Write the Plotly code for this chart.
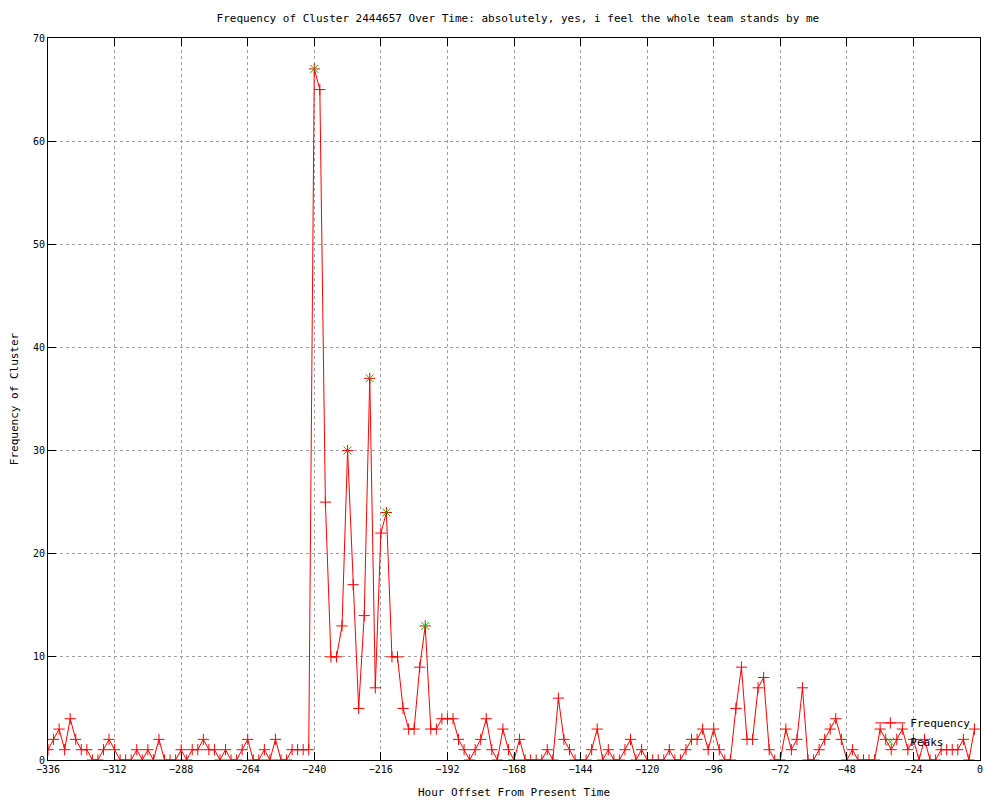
import plotly.graph_objects as go

# Hour offsets (every 2 hours) and cluster frequency
hours = list(range(-336, 0, 2))
frequency = [
    1, 2, 3, 1, 4, 2, 1, 1, 0, 0,
    1, 2, 1, 0, 0, 0, 1, 0, 1, 0,
    2, 0, 0, 0, 1, 0, 1, 1, 2, 1,
    1, 0, 1, 0, 0, 1, 2, 0, 0, 1,
    0, 2, 0, 0, 1, 1, 1, 1, 67, 65,
    25, 10, 10, 13, 30, 17, 5, 14, 37, 7,
    22, 24, 10, 10, 5, 3, 3, 9, 13, 3,
    3, 4, 4, 4, 2, 1, 0, 1, 2, 4,
    1, 0, 3, 1, 0, 2, 0, 0, 0, 0,
    1, 0, 6, 2, 1, 0, 0, 0, 1, 3,
    0, 1, 0, 0, 1, 2, 0, 1, 0, 0,
    0, 0, 1, 0, 0, 1, 2, 2, 3, 1,
    3, 1, 0, 0, 5, 9, 2, 2, 7, 8,
    1, 0, 0, 3, 1, 2, 7, 0, 0, 1,
    2, 3, 4, 2, 0, 1, 0, 0, 0, 0,
    3, 2, 1, 2, 3, 1, 2, 0, 2, 0,
    0, 1, 1, 1, 1, 2, 0, 3,
]

peak_hours = [-240, -228, -220, -214, -200]
peak_values = [67, 30, 37, 24, 13]

x_ticks = list(range(-336, 1, 24))
y_ticks = list(range(0, 71, 10))

title_text = "Frequency of Cluster 2444657 Over Time: absolutely, yes, i feel the whole team stands by me"
x_title = "Hour Offset From Present Time"
y_title = "Frequency of Cluster"

FONT = "DejaVu Sans Mono"

fig = go.Figure()
fig.add_trace(go.Scatter(
    x=hours, y=frequency, mode="lines+markers", name="Frequency",
    line=dict(color="#ff0000", width=1),
    marker=dict(symbol="cross-thin-open", size=8, line=dict(color="#ff0000", width=1), color="#ff0000"),
))
fig.add_trace(go.Scatter(
    x=peak_hours, y=peak_values, mode="markers", name="Peaks",
    marker=dict(symbol="x-thin-open", size=8, line=dict(color="#00c000", width=1), color="#00c000"),
))

axis_common = dict(
    showline=True, linecolor="black", linewidth=1, mirror="ticks",
    ticks="inside", ticklen=8, tickcolor="black", tickwidth=1,
    showgrid=True, gridcolor="#a0a0a0", gridwidth=1, griddash="3px,3px",
    zeroline=False, automargin=False,
    tickfont=dict(family=FONT, size=10, color="black"),
)

fig.update_layout(
    width=992, height=792,
    paper_bgcolor="white", plot_bgcolor="white",
    margin=dict(l=40, r=20, t=30, b=40),
    title=dict(text=title_text, x=0.514, xanchor="center", y=0.987, yanchor="middle",
               font=dict(family=FONT, size=11, color="black")),
    font=dict(family=FONT, size=11, color="black"),
    xaxis=dict(range=[-336, 0], tickvals=x_ticks,
               title=dict(text=x_title, font=dict(family=FONT, size=11), standoff=14),
               **axis_common),
    yaxis=dict(range=[0, 70], tickvals=y_ticks,
               title=dict(text=y_title, font=dict(family=FONT, size=11), standoff=20),
               **axis_common),
    showlegend=True,
    legend=dict(x=0.995, xanchor="right", y=0.005, yanchor="bottom",
                bgcolor="rgba(0,0,0,0)", borderwidth=0,
                font=dict(family=FONT, size=11, color="black"),
                tracegroupgap=0, itemwidth=30),
)

fig.write_html("out.html")
